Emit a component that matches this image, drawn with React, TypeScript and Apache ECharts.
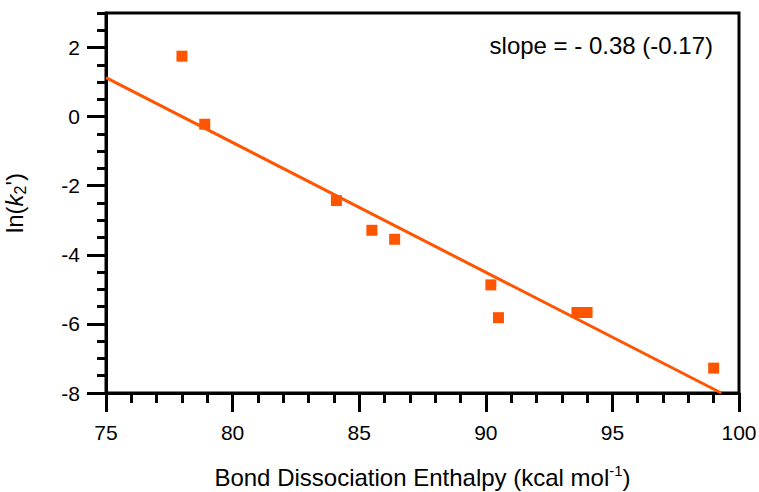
import React, { useEffect, useRef } from 'react';
import * as echarts from 'echarts';

const bde = [78.0, 78.9, 84.1, 85.5, 86.4, 90.2, 90.5, 93.6, 94.0, 99.0];
const lnK2 = [1.75, -0.22, -2.43, -3.29, -3.55, -4.87, -5.82, -5.67, -5.67, -7.28];
const fitX = [75, 99.3];
const fitY = [1.13, -8.0];
const yMajorTicks = [-8, -6, -4, -2, 0, 2];
const slopeText = 'slope = - 0.38 (-0.17)';
const xTitle = 'Bond Dissociation Enthalpy (kcal mol';

const FONT = '"Liberation Sans", Arial, sans-serif';
const ORANGE = '#ff5500';

export default function App() {
  const ref = useRef<HTMLDivElement>(null);
  useEffect(() => {
    const chart = echarts.init(ref.current!, undefined, { renderer: 'svg' });
    const points = bde.map((x, i) => [x, lnK2[i]]);
    const fit = fitX.map((x, i) => [x, fitY[i]]);
    chart.setOption({
      animation: false,
      grid: {
        left: 106, right: 20, top: 13, bottom: 99,
        outerBoundsMode: 'none', containLabel: false,
        show: true, borderColor: '#000', borderWidth: 3, backgroundColor: 'transparent',
      },
      xAxis: {
        type: 'value', min: 75, max: 100, interval: 5,
        axisLine: { show: true, onZero: false, lineStyle: { color: '#000', width: 3 } },
        axisTick: { show: true, length: 19, lineStyle: { color: '#000', width: 3 } },
        minorTick: { show: true, splitNumber: 5, length: 10, lineStyle: { color: '#000', width: 3 } },
        splitLine: { show: false },
        axisLabel: { fontSize: 21, color: '#000', margin: 29, fontFamily: FONT },
        name: `{a|${xTitle}}{sup|-1}{a|)}`,
        nameLocation: 'middle',
        nameGap: 70,
        nameTextStyle: {
          rich: {
            a: { fontSize: 24, color: '#000', fontFamily: FONT, lineHeight: 28 },
            sup: { fontSize: 15, color: '#000', fontFamily: FONT, lineHeight: 15, verticalAlign: 'top' },
          },
        },
      },
      yAxis: [
        {
          type: 'value', min: -8, max: 3, interval: 0.5,
          axisLine: { show: true, onZero: false, lineStyle: { color: '#000', width: 3 } },
          axisTick: { show: true, length: 9, lineStyle: { color: '#000', width: 3 } },
          splitLine: { show: false },
          axisLabel: {
            fontSize: 21, color: '#000', margin: 26, fontFamily: FONT,
            formatter: (v: number) => (yMajorTicks.includes(v) ? String(v) : ''),
          },
          name: "{a|ln(}{i|k}{sub|2}{a|')}",
          nameLocation: 'middle',
          nameGap: 78,
          nameTextStyle: {
            rich: {
              a: { fontSize: 24, color: '#000', fontFamily: FONT, lineHeight: 28 },
              i: { fontSize: 24, color: '#000', fontFamily: FONT, fontStyle: 'italic', lineHeight: 28 },
              sub: { fontSize: 16, color: '#000', fontFamily: FONT, lineHeight: 14, verticalAlign: 'bottom' },
            },
          },
        },
        {
          type: 'value', min: -8, max: 3, position: 'left',
          axisLine: { show: false },
          axisTick: { show: true, length: 19, customValues: yMajorTicks, lineStyle: { color: '#000', width: 3 } },
          axisLabel: { show: false },
          splitLine: { show: false },
        },
      ],
      graphic: [
        {
          type: 'text', right: 46, top: 33,
          style: { text: slopeText, font: `24px ${FONT}`, fill: '#000' },
        },
      ],
      series: [
        {
          type: 'line', data: fit, showSymbol: false, symbol: 'none',
          lineStyle: { color: ORANGE, width: 3 }, z: 2,
        },
        {
          type: 'scatter', data: points, symbol: 'rect', symbolSize: 11,
          itemStyle: { color: ORANGE, opacity: 1 }, z: 3,
        },
      ],
    });
    return () => chart.dispose();
  }, []);
  return <div ref={ref} style={{ width: 759, height: 492, position: 'absolute', left: 0, top: 0 }} />;
}
